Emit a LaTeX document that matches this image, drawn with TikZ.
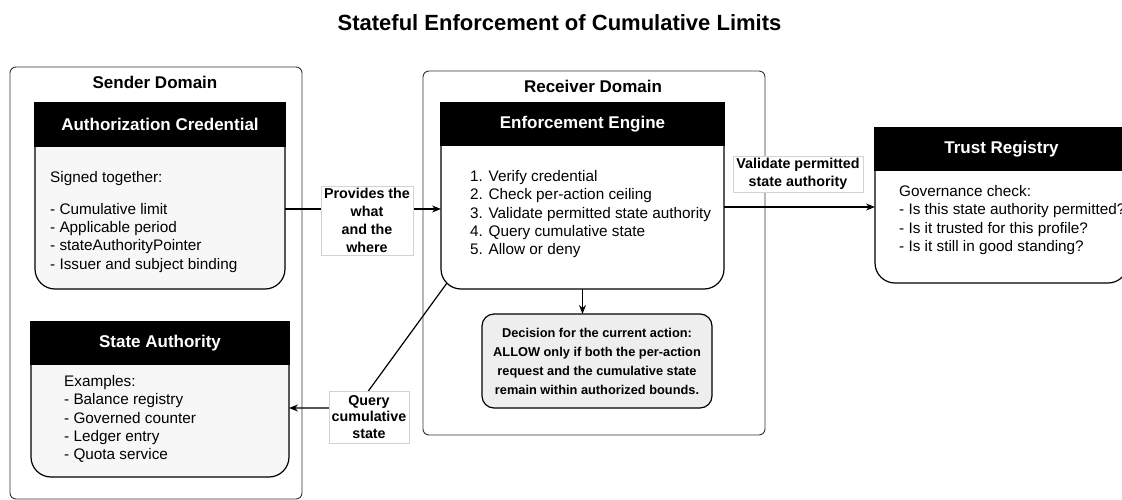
\documentclass[tikz,border=0pt]{standalone}
\usepackage{fontspec}
\setmainfont{Liberation Sans}
\usetikzlibrary{arrows.meta,calc}
\definecolor{cardgray}{HTML}{F7F7F7}
\definecolor{decgray}{HTML}{EEEEEE}
\definecolor{edgegray}{HTML}{333333}

\begin{document}
\begin{tikzpicture}[x=1pt, y=-1pt,
    domainbox/.style={draw=edgegray, line width=0.9pt, fill=white, rounded corners=6pt, inner sep=0pt, outer sep=0pt},
    domaintitle/.style={font=\fontsize{17}{20}\selectfont\bfseries},
    cardbody/.style={draw=black, line width=1.2pt, rounded corners=20pt, inner sep=0pt, outer sep=0pt},
    cardhead/.style={draw=black, fill=black, line width=1.2pt, inner sep=0pt, outer sep=0pt, text=white, font=\fontsize{17}{20}\selectfont\bfseries},
    bodytext/.style={anchor=north west, inner sep=0pt, align=left, font=\fontsize{15.3}{18.4}\selectfont},
    edgelabel/.style={fill=white, draw=gray!35, line width=0.5pt, align=center, inner sep=1pt, font=\fontsize{14.3}{18}\selectfont\bfseries},
    arr/.style={line width=1.2pt, -{Stealth[length=9pt,width=7pt]}}
]
    \fill[white] (0,0) rectangle (1122,500);
    \useasboundingbox (0,0) rectangle (1122,500);

    \node[font=\fontsize{22}{26}\selectfont\bfseries] (title) at (559.5,23) {Stateful Enforcement of Cumulative Limits};

    \node[domainbox, minimum width=292, minimum height=432] (sender) at (156,283) {};
    \node[domaintitle] (sendertitle) at (155,82) {Sender Domain};
    \node[domainbox, minimum width=342, minimum height=364] (receiver) at (594,253) {};
    \node[domaintitle] (receivertitle) at (593,86) {Receiver Domain};

    \node[cardbody, fill=cardgray, minimum width=250, minimum height=186] (cred) at (160,196) {};
    \node[cardhead, minimum width=250, minimum height=43, anchor=north] (credhead) at (cred.north) {Authorization Credential};
    \node[bodytext] (credtext) at (50,171) {Signed together:\\[13.5pt]- Cumulative limit\\- Applicable period\\- stateAuthorityPointer\\- Issuer and subject binding};

    \node[cardbody, fill=cardgray, minimum width=258, minimum height=155] (state) at (160,399.5) {};
    \node[cardhead, minimum width=258, minimum height=42, anchor=north] (statehead) at (state.north) {State Authority};
    \node[bodytext] (statetext) at (64,375) {Examples:\\- Balance registry\\- Governed counter\\- Ledger entry\\- Quota service};

    \node[cardbody, fill=white, minimum width=283, minimum height=186] (engine) at (582.5,196) {};
    \node[cardhead, minimum width=283, minimum height=42, anchor=north] (enginehead) at (engine.north) {Enforcement Engine};
    \node[bodytext] (enginetext) at (470,170) {1. Verify credential\\2. Check per-action ceiling\\3. Validate permitted state authority\\4. Query cumulative state\\5. Allow or deny};

    \node[draw=black, line width=1.2pt, fill=decgray, rounded corners=12pt, minimum width=230, minimum height=94, inner sep=0pt, outer sep=0pt, align=center, font=\fontsize{12.8}{19}\selectfont\bfseries] (decision) at (597,361) {Decision for the current action:\\ALLOW only if both the per-action\\request and the cumulative state\\remain within authorized bounds.};

    \node[cardbody, fill=white, minimum width=253, minimum height=155] (trust) at (1001.5,205.5) {};
    \node[cardhead, minimum width=253, minimum height=42, anchor=north] (trusthead) at (trust.north) {Trust Registry};
    \node[bodytext] (trusttext) at (899,185) {Governance check:\\- Is this state authority permitted?\\- Is it trusted for this profile?\\- Is it still in good standing?};

    \coordinate (provy) at (0,209);
    \draw[arr] (cred.east |- provy) -- (engine.west |- provy);
    \node[edgelabel, minimum width=92, minimum height=69] (provlbl) at (367,220.5) {Provides the\\what\\and the\\where};

    \coordinate (valy) at (0,207);
    \draw[arr] (engine.east |- valy) -- (trust.west |- valy);
    \node[edgelabel, minimum width=130, minimum height=36] (vallbl) at (798,174) {Validate permitted\\state authority};

    \draw[arr] (engine.south) -- (engine.south |- decision.north);

    \coordinate (qstart) at ($(engine.south west)+(6,-6)$);
    \coordinate (qbend) at (356,408);
    \draw[arr] (qstart) -- (qbend) -- (state.east |- qbend);
    \node[edgelabel, font=\fontsize{14.3}{16.5}\selectfont\bfseries, minimum width=80, minimum height=52] (querylbl) at (369,417) {Query\\cumulative\\state};
\end{tikzpicture}
\end{document}
